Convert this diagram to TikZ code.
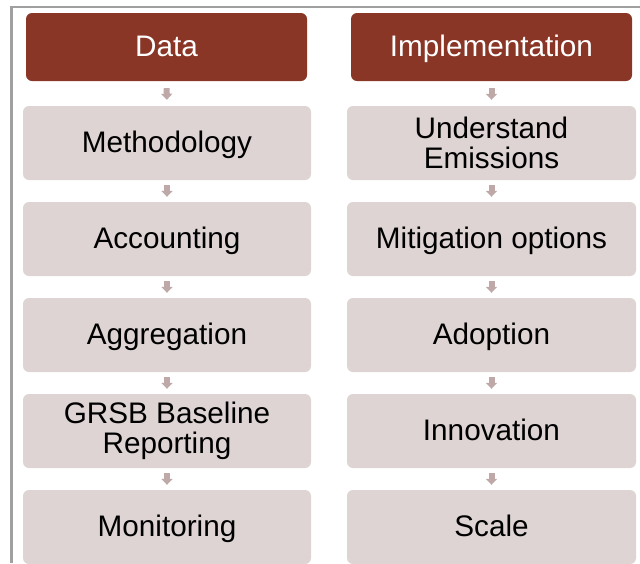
\documentclass[tikz,border=0pt]{standalone}
\usepackage{fontspec}
\setmainfont{Liberation Sans}
\usetikzlibrary{arrows.meta}
\definecolor{hdrfill}{RGB}{137,54,38}
\definecolor{boxfill}{RGB}{221,212,211}
\definecolor{arrcol}{RGB}{191,168,168}
\definecolor{framecol}{RGB}{160,160,160}
\tikzset{
  hdr/.style={fill=hdrfill, draw=none, rounded corners=6pt, inner sep=0pt,
    minimum width=281pt, minimum height=68pt, text=white,
    font=\fontsize{29.7}{30}\selectfont, align=center,
    text height=21.5pt, text depth=3.5pt},
  stepbox/.style={fill=boxfill, draw=none, rounded corners=6pt, inner sep=0pt,
    minimum width=288pt, minimum height=74pt, text=black,
    font=\fontsize{29.7}{30}\selectfont, align=center},
  oneline/.style={text height=21.5pt, text depth=3.5pt},
  arr/.style={draw=arrcol, line width=6pt, -{Triangle[length=6pt,width=11pt]},
    shorten <=5pt, shorten >=5pt},
  harr/.style={arr, shorten <=7pt, shorten >=6pt},
  frameline/.style={draw=framecol, line width=2.5pt}
}
\begin{document}
\begin{tikzpicture}[x=1pt,y=-1pt]
\useasboundingbox (0,0) rectangle (640,563);
% frame
\coordinate (fTR) at (640,7);
\coordinate (fTL) at (11.5,7);
\coordinate (fBL) at (11.5,563);
\draw[frameline] (fTR) -- (fTL) -- (fBL);
% headers
\node[hdr] (hL) at (166.5,47) {Data};
\node[hdr] (hR) at (491.5,47) {Implementation};
% left column
\node[stepbox, oneline] (l1) at (167,143) {Methodology};
\node[stepbox, oneline] (l2) at (167,239) {Accounting};
\node[stepbox, oneline] (l3) at (167,335) {Aggregation};
\node[stepbox] (l4) at (167,431) {GRSB Baseline\\Reporting};
\node[stepbox, oneline] (l5) at (167,527) {Monitoring};
% right column
\node[stepbox, minimum width=289pt] (r1) at (491.5,143) {Understand\\Emissions};
\node[stepbox, oneline, minimum width=289pt] (r2) at (491.5,239) {Mitigation options};
\node[stepbox, oneline, minimum width=289pt] (r3) at (491.5,335) {Adoption};
\node[stepbox, oneline, minimum width=289pt] (r4) at (491.5,431) {Innovation};
\node[stepbox, oneline, minimum width=289pt] (r5) at (491.5,527) {Scale};
% arrows
\draw[harr] (hL.south) -- (l1.north);
\draw[harr] (hR.south) -- (r1.north);
\draw[arr] (l1.south) -- (l2.north);
\draw[arr] (l2.south) -- (l3.north);
\draw[arr] (l3.south) -- (l4.north);
\draw[arr] (l4.south) -- (l5.north);
\draw[arr] (r1.south) -- (r2.north);
\draw[arr] (r2.south) -- (r3.north);
\draw[arr] (r3.south) -- (r4.north);
\draw[arr] (r4.south) -- (r5.north);
\end{tikzpicture}
\end{document}
